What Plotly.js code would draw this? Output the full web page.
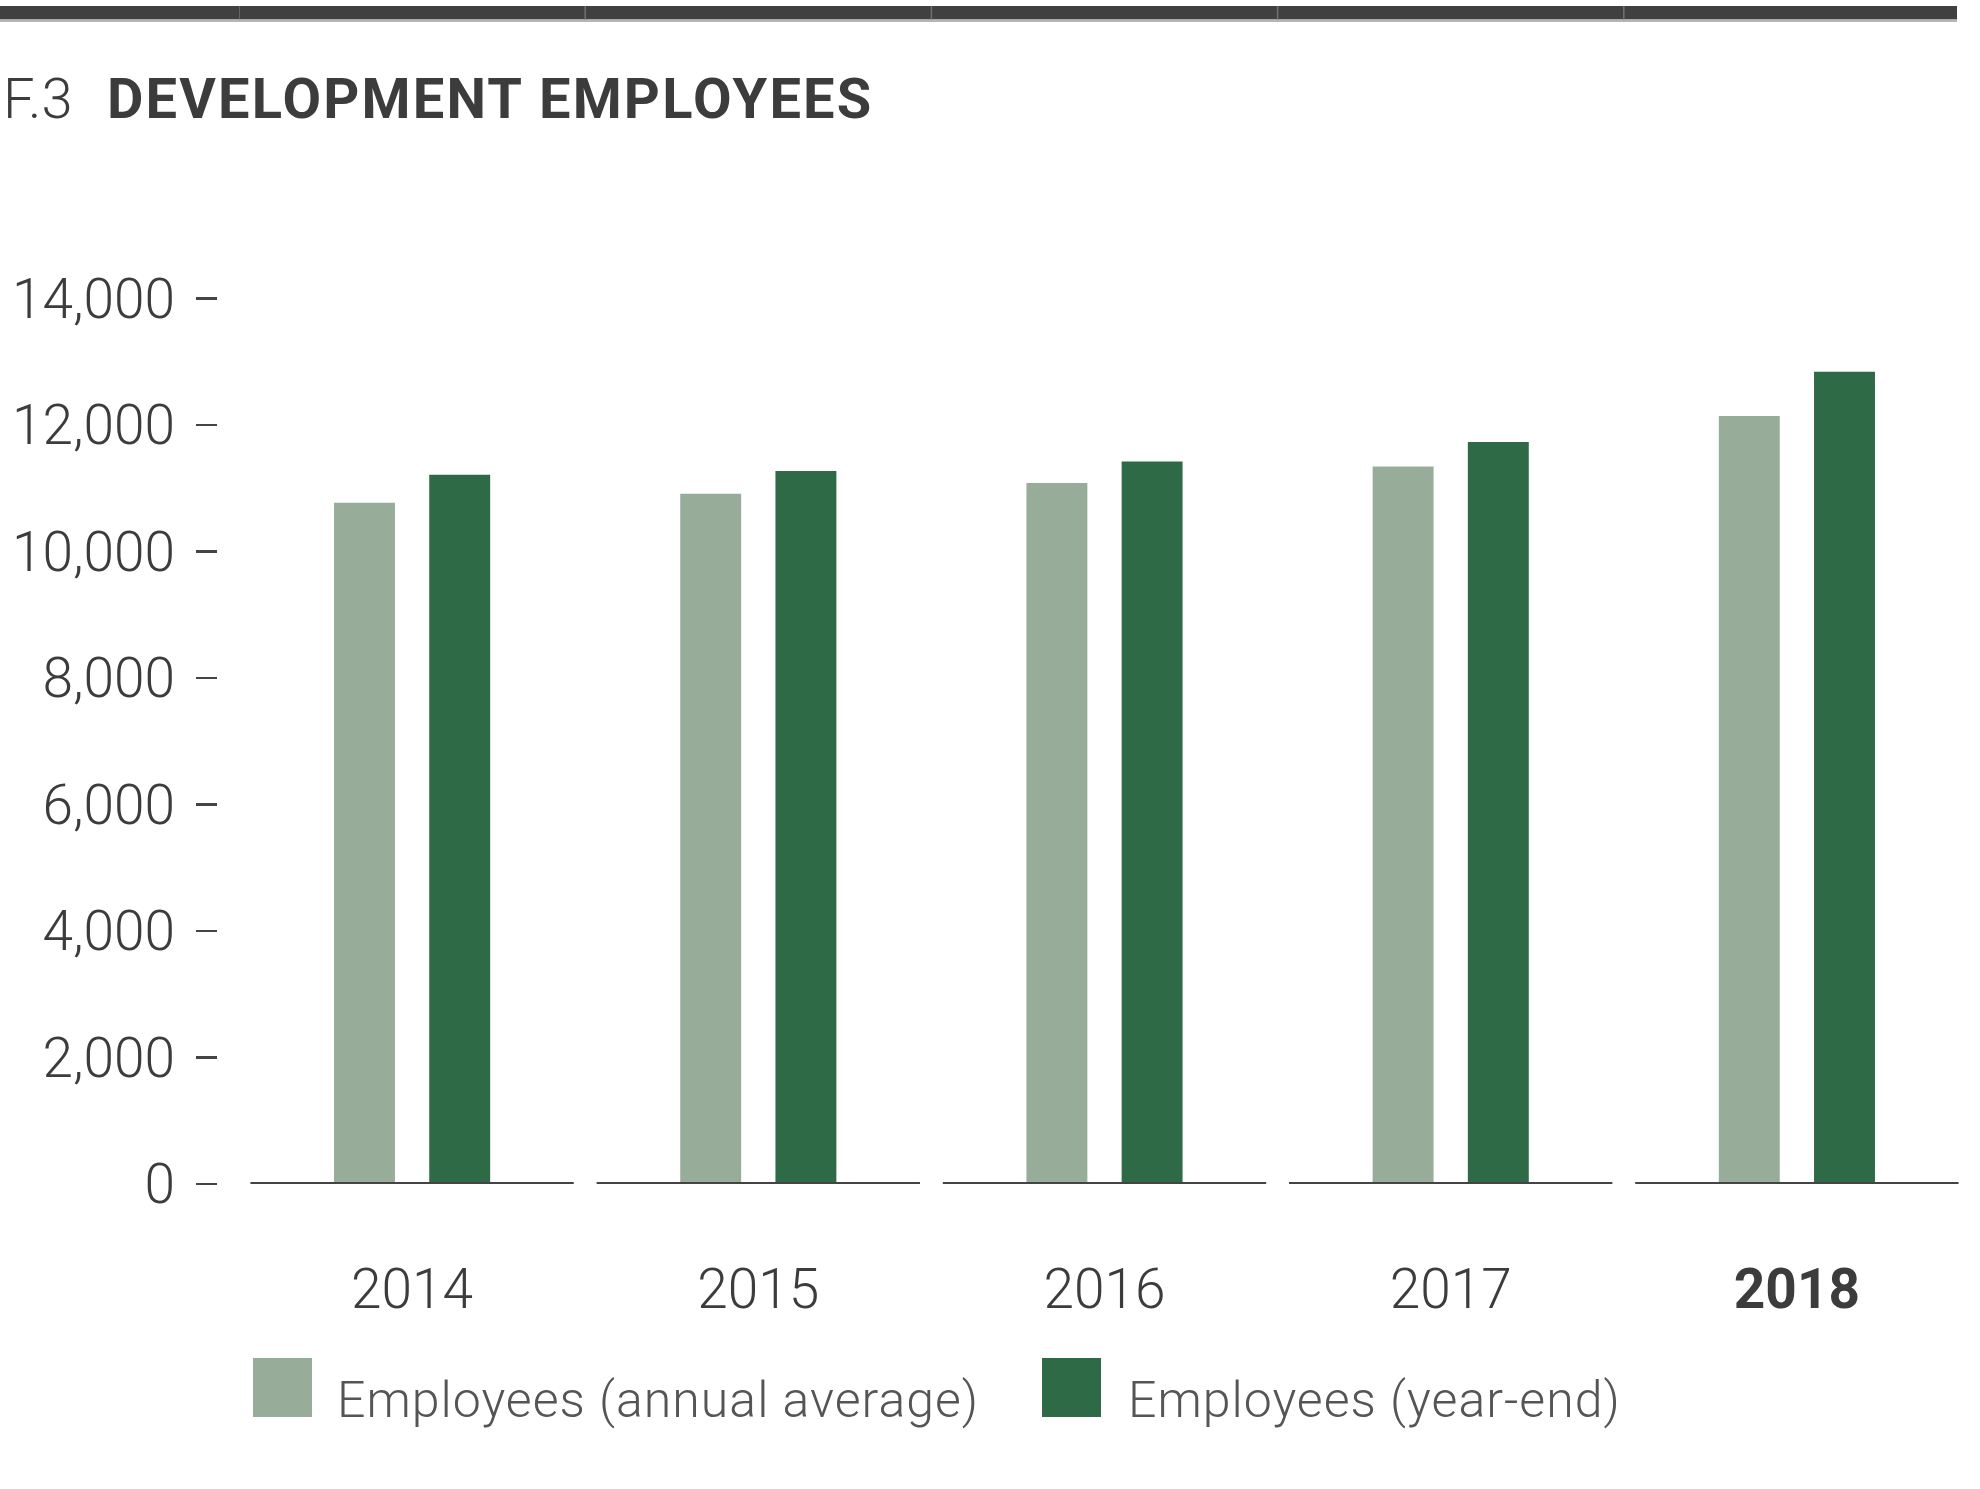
<!DOCTYPE html>
<html><head><meta charset="utf-8">
<script src="https://cdn.plot.ly/plotly-3.0.1.min.js"></script>
<style>
html,body{margin:0;padding:0;background:#fff;}
#chart{width:1980px;height:1489px;}
g.annotation[data-index="0"] text, g.annotation[data-index="1"] text { letter-spacing: 1px; }
g.annotation[data-index="3"] text { letter-spacing: 2.2px; }
</style>
</head><body><div id="chart"></div>
<script>
// ---- data ----
const years = ['2014', '2015', '2016', '2017', '2018'];
const yearLabels = ['2014', '2015', '2016', '2017', '<b>2018</b>'];
const annualAverage = [10770, 10910, 11080, 11340, 12140];
const yearEnd = [11210, 11270, 11420, 11730, 12840];
const seriesNames = ['Employees (annual average)', 'Employees (year-end)'];
const seriesColors = ['#97ad9a', '#2e6a46'];
const yTickVals = [0, 2000, 4000, 6000, 8000, 10000, 12000, 14000];
const yTickText = ['0', '2,000', '4,000', '6,000', '8,000', '10,000', '12,000', '14,000'];
const titlePrefix = 'F.3';
const titleText = 'DEVELOPMENT EMPLOYEES';

// ---- layout geometry ----
const W = 1980, H = 1489;
const L = 217, R = 10, T = 273, B = 305;
const plotW = W - L - R, plotH = H - T - B;
const px = x => (x - L) / plotW;
const py = y => (H - B - y) / plotH;
const FONT = 'Roboto, "Open Sans", "DejaVu Sans", sans-serif';
const TXT = '#3c3c3c';

const traces = [
  {type: 'bar', x: years, y: annualAverage, name: seriesNames[0], marker: {color: seriesColors[0]}, hoverinfo: 'y'},
  {type: 'bar', x: years, y: yearEnd, name: seriesNames[1], marker: {color: seriesColors[1]}, hoverinfo: 'y'}
];

const shapes = [];
// top band
shapes.push({type: 'rect', xref: 'paper', yref: 'paper', x0: px(0), x1: px(1957), y0: py(19.5), y1: py(6), fillcolor: '#404040', line: {width: 0}, layer: 'above'});
shapes.push({type: 'rect', xref: 'paper', yref: 'paper', x0: px(0), x1: px(1957), y0: py(22), y1: py(19.5), fillcolor: '#b5b5b5', line: {width: 0}, layer: 'above'});
years.forEach((yr, i) => {
  shapes.push({type: 'line', xref: 'x', yref: 'paper', x0: i - 0.5, x1: i - 0.5, y0: py(19.5), y1: py(6), line: {color: '#707070', width: 1.5}, layer: 'above'});
  // baseline segment per category
  shapes.push({type: 'line', xref: 'x', yref: 'y', x0: i - 0.467, x1: i + 0.467, y0: 0, y1: 0, line: {color: '#444444', width: 4}, layer: 'above'});
});

// custom legend
const legendSquares = [[253, 312], [1042, 1101]];
const legendTextX = [349, 1137];
const annotations = [];
seriesNames.forEach((nm, i) => {
  shapes.push({type: 'rect', xref: 'paper', yref: 'paper', x0: px(legendSquares[i][0]), x1: px(legendSquares[i][1]), y0: py(1417), y1: py(1358), fillcolor: seriesColors[i], line: {width: 0}});
  annotations.push({xref: 'paper', yref: 'paper', x: px(legendTextX[i]), y: py(1430), xanchor: 'left', yanchor: 'bottom', showarrow: false, borderpad: 0,
    text: nm, font: {family: FONT, size: 50, color: '#555555', weight: 300}});
});
// title
annotations.push({xref: 'paper', yref: 'paper', x: px(2), y: py(99), xanchor: 'left', yanchor: 'middle', showarrow: false, borderpad: 0,
  text: titlePrefix, font: {family: FONT, size: 56, color: TXT, weight: 300}});
annotations.push({xref: 'paper', yref: 'paper', x: px(129), y: py(99), xanchor: 'left', yanchor: 'middle', showarrow: false, borderpad: 0,
  text: '<b>' + titleText + '</b>', font: {family: FONT, size: 56, color: TXT}});

const layout = {
  width: W, height: H,
  margin: {l: L, r: R, t: T, b: B, pad: 0},
  paper_bgcolor: '#ffffff', plot_bgcolor: '#ffffff',
  showlegend: false,
  barmode: 'group', bargap: 0.45, bargroupgap: 0.36,
  font: {family: FONT, color: TXT},
  xaxis: {
    type: 'category', domain: [px(239), 1], range: [-0.5, 4.5], anchor: 'y',
    tickmode: 'array', tickvals: years, ticktext: yearLabels,
    ticks: '', showline: false, showgrid: false, zeroline: false,
    tickfont: {family: FONT, size: 55, color: TXT, weight: 300},
    ticklabelstandoff: 68
  },
  yaxis: {
    anchor: 'free', position: 0, range: [0, 14400],
    tickmode: 'array', tickvals: yTickVals, ticktext: yTickText,
    ticks: 'outside', ticklen: 21, tickwidth: 2.5, tickcolor: '#444444',
    showline: false, showgrid: false, zeroline: false,
    tickfont: {family: FONT, size: 55, color: TXT, weight: 300},
    ticklabelstandoff: 10
  },
  shapes: shapes,
  annotations: annotations
};

Plotly.newPlot('chart', traces, layout, {displayModeBar: false, staticPlot: true});
</script>
</body></html>
